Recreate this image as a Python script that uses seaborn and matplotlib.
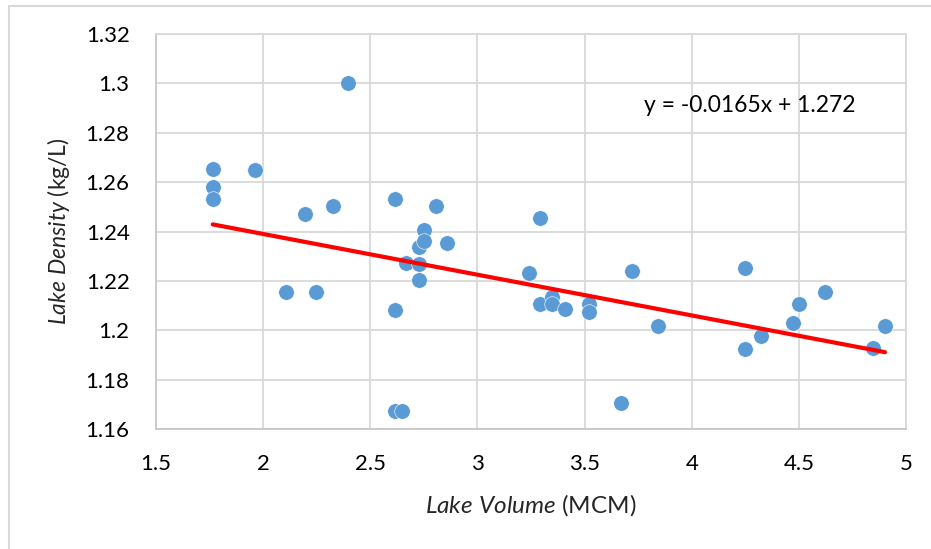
import matplotlib
matplotlib.use("Agg")
import matplotlib.pyplot as plt
from matplotlib.patches import Rectangle
import numpy as np
import pandas as pd
import seaborn as sns

# Lake volume (million cubic metres) and density (kg/L)
volume = [1.765, 1.765, 1.765, 1.964, 2.106, 2.195, 2.246, 2.327, 2.396, 2.617,
          2.617, 2.617, 2.648, 2.668, 2.726, 2.729, 2.729, 2.749, 2.749, 2.808,
          2.856, 3.24, 3.29, 3.29, 3.35, 3.35, 3.41, 3.52, 3.52, 3.67,
          3.721, 3.841, 4.249, 4.249, 4.322, 4.472, 4.501, 4.621, 4.844, 4.902]
density = [1.2653, 1.2579, 1.2532, 1.265, 1.2153, 1.247, 1.2153, 1.2505, 1.3, 1.2532,
           1.2084, 1.1671, 1.1671, 1.2272, 1.2336, 1.2269, 1.2204, 1.2408, 1.2362, 1.2505,
           1.2355, 1.223, 1.2455, 1.2106, 1.2134, 1.2106, 1.2087, 1.2107, 1.2073, 1.1706,
           1.2239, 1.2017, 1.2251, 1.1923, 1.1976, 1.203, 1.2106, 1.2154, 1.1929, 1.2017]

# Linear trendline coefficients
slope = -0.0165
intercept = 1.272

x_ticks = [1.5, 2, 2.5, 3, 3.5, 4, 4.5, 5]
x_tick_labels = ["1.5", "2", "2.5", "3", "3.5", "4", "4.5", "5"]
y_ticks = [1.16, 1.18, 1.2, 1.22, 1.24, 1.26, 1.28, 1.3, 1.32]
y_tick_labels = ["1.16", "1.18", "1.2", "1.22", "1.24", "1.26", "1.28", "1.3", "1.32"]

sns.set_theme(style="white")
plt.rcParams["font.family"] = ["Lato", "DejaVu Sans"]
plt.rcParams["mathtext.fontset"] = "custom"
plt.rcParams["mathtext.rm"] = "Lato"
plt.rcParams["mathtext.it"] = "Lato:italic"

df = pd.DataFrame({"volume": volume, "density": density})
x_fit = np.array([min(volume), max(volume)])
fit = pd.DataFrame({"volume": x_fit, "density": slope * x_fit + intercept})

fig = plt.figure(figsize=(9.31, 5.49), dpi=100)
ax = fig.add_axes([156 / 931, 1 - 429 / 549, 750 / 931, 395 / 549])

grid_col = "#D9D9D9"
sns.scatterplot(data=df, x="volume", y="density", ax=ax, color="#5B9BD5",
                s=125, edgecolor="white", linewidth=0.4, zorder=3)
sns.lineplot(data=fit, x="volume", y="density", ax=ax, color="#FF0000",
             linewidth=3, zorder=4)

ax.set_xlim(1.5, 5)
ax.set_ylim(1.16, 1.32)
ax.set_xticks(x_ticks)
ax.set_xticklabels(x_tick_labels)
ax.set_yticks(y_ticks)
ax.set_yticklabels(y_tick_labels)
ax.grid(True, color=grid_col, linewidth=1.3)
ax.set_axisbelow(True)
for side, sp in ax.spines.items():
    sp.set_color(grid_col)
    sp.set_linewidth(1.3)
ax.spines["bottom"].set_color("#C8C8C8")
ax.spines["left"].set_color("#C8C8C8")

ax.tick_params(axis="both", length=0, labelsize=16, colors="#000000")
ax.tick_params(axis="y", pad=19)
ax.tick_params(axis="x", pad=18)

ax.set_xlabel(r"$\it{Lake\ Volume}$ (MCM)", fontsize=17.5, labelpad=13)
ax.set_ylabel(r"$\it{Lake\ Density}$ (kg/L)", fontsize=16.5, labelpad=10)

ax.text(3.776, 1.2912, "y = -0.0165x + 1.272", fontsize=16.5,
        ha="left", va="center", color="#000000")

# Chart-area border
fig.patches.append(Rectangle((9 / 931, -0.1), 1.2, 1 - 6 / 549 + 0.1,
                             transform=fig.transFigure, fill=False,
                             edgecolor=grid_col, linewidth=1.5))

fig.savefig("out.png", dpi=100)
